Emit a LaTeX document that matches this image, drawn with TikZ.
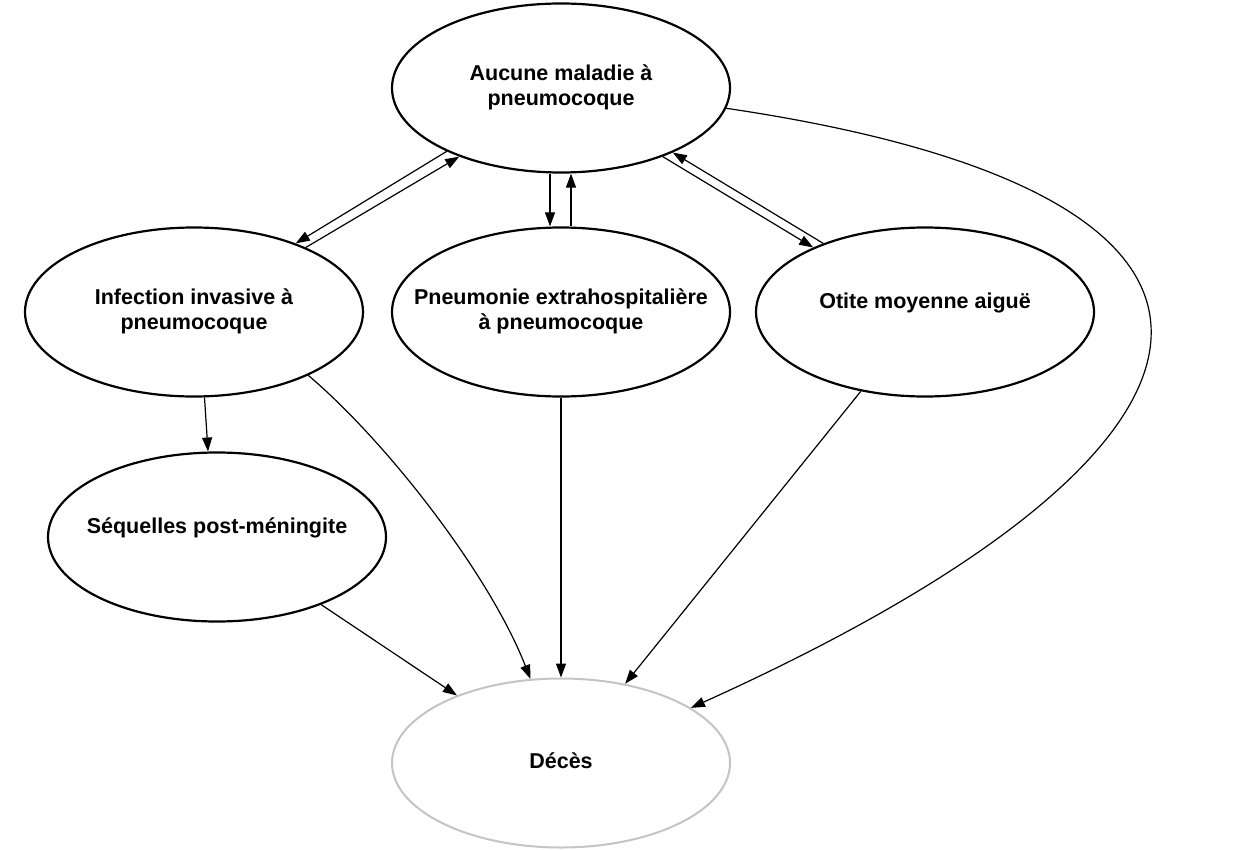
\documentclass[tikz,border=0pt]{standalone}
\usepackage{fontspec}
\setmainfont{Liberation Sans}
\usetikzlibrary{shapes.geometric,arrows.meta}
\definecolor{decgray}{HTML}{C4C4C4}
\newcommand{\lbl}[1]{\makebox[0pt][c]{\begin{tabular}{@{}c@{}}#1\end{tabular}}}
\tikzset{
  state/.style={ellipse, draw=black, line width=2.2pt, minimum width=338pt, minimum height=169pt,
    inner sep=0pt, font=\fontsize{21.5pt}{25pt}\selectfont\bfseries},
  conn/.style={line width=1.2pt, -{Triangle[length=14pt,width=10pt]}},
}
\begin{document}
\begin{tikzpicture}[x=1pt,y=-1pt]
\useasboundingbox (0,0) rectangle (1257,850);
\node[state] (top) at (561,88) {\lbl{Aucune maladie à\\pneumocoque}};
\node[state] (inf) at (194,312) {\lbl{Infection invasive à\\pneumocoque}};
\node[state] (pneu) at (561,312) {\lbl{Pneumonie extrahospitalière\\à pneumocoque}};
\node[state] (oti) at (925,312) {\raisebox{9pt}[\height][\depth]{\lbl{Otite moyenne aiguë}}};
\node[state] (seq) at (217,537) {\raisebox{9pt}[\height][\depth]{\lbl{Séquelles post-méningite}}};
\node[state, draw=decgray, line width=2pt] (dec) at (561,763) {\lbl{Décès}};

\draw[conn] (top.209) -- (inf.34);
\draw[conn] (inf.30) -- (top.214);
\draw[conn] ([xshift=-11pt]top.south) -- ([xshift=-11pt]pneu.north);
\draw[conn] ([xshift=10pt]pneu.north) -- ([xshift=10pt]top.south);
\draw[conn] (top.326) -- (oti.150);
\draw[conn] (oti.146) -- (top.330);
\draw[conn] (top.353) .. controls +(595,88) and +(580,-262) .. (dec.23);
\draw[conn] (inf.277) -- (seq.96);
\draw[conn] (inf.331) .. controls +(80,68) and +(-40,-103) .. (dec.110);
\draw[conn] (seq.327) -- (dec.147);
\draw[conn] (pneu.south) -- (dec.north);
\draw[conn] (oti.231) -- (dec.51);
\end{tikzpicture}
\end{document}
